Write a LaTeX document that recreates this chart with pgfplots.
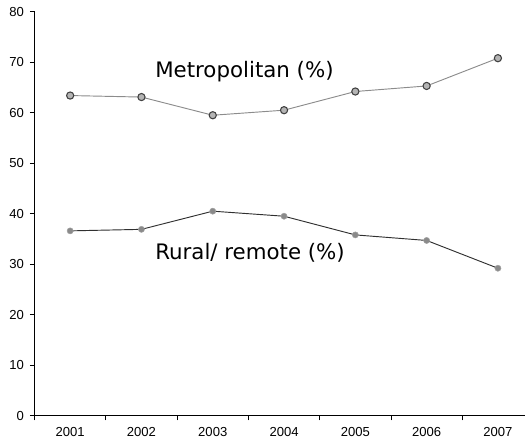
\documentclass[border=0pt]{standalone}
\usepackage{fontspec}
\setmainfont{Liberation Sans}
\newfontfamily\labelfont{DejaVu Sans}
\usepackage{pgfplots}
\pgfplotsset{compat=1.18}

\definecolor{metroline}{HTML}{8C8C8C}
\definecolor{metrofill}{HTML}{B4B4B4}
\definecolor{metroedge}{HTML}{404040}
\definecolor{ruralline}{HTML}{303030}
\definecolor{ruralfill}{HTML}{8A8A8A}

\begin{document}
\begin{tikzpicture}
\begin{axis}[
  scale only axis,
  width=367.9pt, height=303pt,
  xmin=-0.5, xmax=6.38,
  ymin=0, ymax=80,
  ytick={0,10,...,80},
  % tick marks sit between the years
  xtick={-0.5,0.5,1.5,2.5,3.5,4.5,5.5},
  xticklabels={},
  % year labels without tick marks
  extra x ticks={0,1,2,3,4,5,6},
  extra x tick labels={2001,2002,2003,2004,2005,2006,2007},
  extra x tick style={major tick length=0pt,
    xticklabel style={yshift=-5pt}},
  axis lines*=left,
  axis line style={black, line width=0.6pt, -},
  tick align=outside,
  major tick length=3.5pt,
  tick style={black, line width=0.6pt},
  tick label style={font=\fontsize{9.8}{11}\selectfont},
  /pgf/number format/assume math mode=true,
  yticklabel style={xshift=-1pt},
  clip=false,
]
\addplot[color=metroline, line width=0.7pt, mark=*,
  mark size=2.7pt,
  mark options={fill=metrofill, draw=metroedge, line width=0.8pt}]
  coordinates {(0,63.4) (1,63.1) (2,59.5) (3,60.5) (4,64.2) (5,65.3) (6,70.8)};
\addplot[color=ruralline, line width=0.7pt, mark=*,
  mark size=2.3pt,
  mark options={fill=ruralfill, draw=ruralfill!80!white, line width=0.4pt}]
  coordinates {(0,36.6) (1,36.9) (2,40.5) (3,39.5) (4,35.8) (5,34.7) (6,29.2)};
\node[anchor=base west, inner sep=0pt, font=\labelfont\fontsize{16}{19}\selectfont]
  at (axis cs:1.19,67.0) {Metropolitan (\%)};
\node[anchor=base west, inner sep=0pt, font=\labelfont\fontsize{16}{19}\selectfont]
  at (axis cs:1.19,31.0) {Rural/ remote (\%)};
\end{axis}
\pgfresetboundingbox
\path[use as bounding box]
  ([xshift=-25.9pt,yshift=-22.7pt]current axis.south west)
  rectangle ([yshift=8.8pt]current axis.north east);
\end{tikzpicture}
\end{document}
